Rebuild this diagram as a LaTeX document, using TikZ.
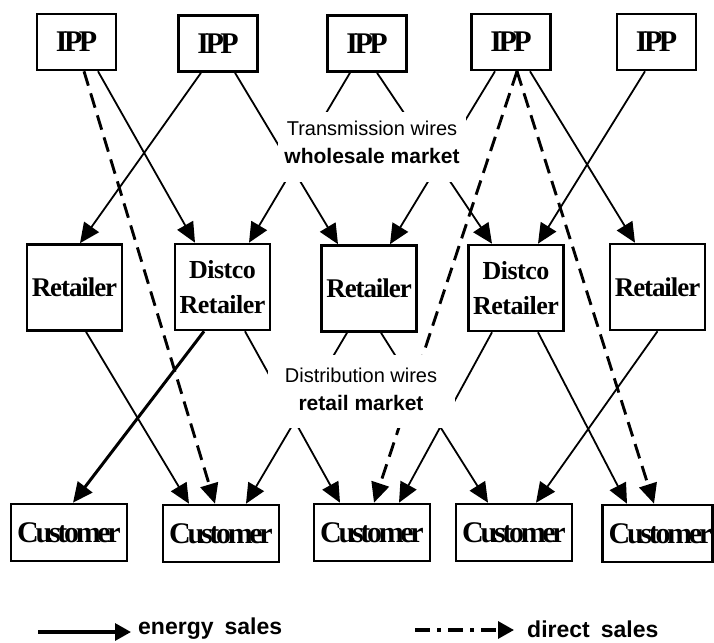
\documentclass[tikz,border=0pt]{standalone}
\usepackage{fontspec}
\setmainfont{Liberation Serif}
\newfontfamily\labelsans{Liberation Sans}
\usetikzlibrary{arrows.meta}
% tightly set box captions
\newcommand\tight[1]{\addfontfeature{LetterSpace=#1}}

\begin{document}
\begin{tikzpicture}[x=1pt,y=-1pt,
  box/.style={draw, line width=2.6pt, inner sep=0pt, align=center},
  ippbox/.style={box, minimum width=79pt, minimum height=56pt, font=\fontsize{30}{34}\selectfont\bfseries\tight{-12}},
  retbox/.style={box, minimum width=95pt, minimum height=86pt, font=\fontsize{27}{35}\selectfont\bfseries\tight{-4}},
  dretbox/.style={box, minimum width=95pt, minimum height=86pt, font=\fontsize{26}{35}\selectfont\bfseries\tight{-2}},
  custbox/.style={box, minimum width=116pt, minimum height=57pt, font=\fontsize{30}{34}\selectfont\bfseries\tight{-11}},
  sale/.style={line width=1.8pt, -{Triangle[length=20pt,width=18pt]}},
  bigsale/.style={sale, line width=3pt},
  direct/.style={sale, line width=2.9pt, dash pattern=on 15pt off 8pt},
  gap/.style={fill=white, inner sep=0pt},
  plain/.style={font=\labelsans\fontsize{20}{24}\selectfont, anchor=base, inner sep=0pt},
  strong/.style={font=\labelsans\bfseries\fontsize{21}{24}\selectfont, anchor=base, inner sep=0pt},
  legend/.style={font=\labelsans\bfseries\fontsize{23}{24}\selectfont, anchor=base west, inner sep=0pt},
]
\useasboundingbox (0,0) rectangle (714,642);

% generators
\node[ippbox] (ipp1) at (76.5,42)  {IPP};
\node[ippbox] (ipp2) at (218,43.5) {IPP};
\node[ippbox] (ipp3) at (367,43.5) {IPP};
\node[ippbox] (ipp4) at (511,42)   {IPP};
\node[ippbox] (ipp5) at (656.5,42) {IPP};

% retailers
\node[retbox]  (ret1) at (74.5,287.5) {Retailer};
\node[dretbox] (dr1)  at (222.5,287)  {Distco\\Retailer};
\node[retbox]  (ret2) at (369,288.5)  {Retailer};
\node[dretbox] (dr2)  at (516,288)    {Distco\\Retailer};
\node[retbox]  (ret3) at (657.5,287)  {Retailer};

% customers
\node[custbox] (cu1) at (69,532.5)  {Customer};
\node[custbox] (cu2) at (221,533.5) {Customer};
\node[custbox] (cu3) at (372,532.5) {Customer};
\node[custbox] (cu4) at (514,532.5) {Customer};
\node[custbox, minimum width=109pt] (cu5) at (657.5,533.5) {\hspace*{6pt}Customer};

% wholesale energy sales
\draw[sale] ([xshift=21.5pt]ipp1.south) -- ([xshift=-27.5pt]dr1.north);
\draw[sale] ([xshift=-17pt]ipp2.south) -- ([xshift=5.5pt]ret1.north);
\draw[sale] ([xshift=17pt]ipp2.south)  -- ([xshift=-31pt]ret2.north);
\draw[sale] ([xshift=-17pt]ipp3.south) -- ([xshift=26.5pt]dr1.north);
\draw[sale] ([xshift=10pt]ipp3.south)  -- ([xshift=-24pt]dr2.north);
\draw[sale] ([xshift=-16pt]ipp4.south) -- ([xshift=21pt]ret2.north);
\draw[sale] ([xshift=19pt]ipp4.south)  -- ([xshift=-22.5pt]ret3.north);
\draw[sale] ([xshift=-11.5pt]ipp5.south) -- ([xshift=22pt]dr2.north);

% retail energy sales
\draw[sale] ([xshift=11.5pt]ret1.south) -- ([xshift=-32pt]cu2.north);
\draw[bigsale] ([xshift=-18.5pt]dr1.south) -- ([xshift=4pt]cu1.north);
\draw[sale] ([xshift=22.5pt]dr1.south) -- ([xshift=-32pt]cu3.north);
\draw[sale] ([xshift=-22pt]ret2.south) -- ([xshift=25pt]cu2.north);
\draw[sale] ([xshift=12pt]ret2.south)  -- ([xshift=-26pt]cu4.north);
\draw[sale] ([xshift=-24pt]dr2.south)  -- ([xshift=27pt]cu3.north);
\draw[sale] ([xshift=22pt]dr2.south)   -- ([xshift=-30.5pt]cu5.north);
\draw[sale] (ret3.south) -- ([xshift=22pt]cu4.north);

% direct sales
\draw[direct] ([xshift=7.5pt]ipp1.south) -- ([xshift=-6pt]cu2.north);
\draw[direct] ([xshift=6pt]ipp4.south) -- ([xshift=2pt]cu3.north);
\draw[direct] ([xshift=6pt]ipp4.south) -- ([xshift=-3.5pt]cu5.north);

% market labels over the wires
\node[gap, minimum width=188pt, minimum height=70pt] (transgap) at (372,147) {};
\node[plain]  (transwires) at (372,135) {Transmission wires};
\node[strong] (wholesale)  at (372,163) {wholesale market};

\node[gap, minimum width=187pt, minimum height=73pt] (distgap) at (361.5,391.5) {};
\node[plain]  (distwires) at (361,382) {Distribution wires};
\node[strong] (retail)    at (361,410) {retail market};

% legend
\coordinate (en1) at (38,632);
\coordinate (en2) at (131,632);
\draw[line width=3.2pt, -{Triangle[length=16pt,width=17pt]}] (en1) -- (en2);
\node[legend] (entext) at (138,634) {energy\hspace{11pt}sales};

\coordinate (di1) at (415,630);
\coordinate (di2) at (514,630);
\draw[line width=3.2pt, dash pattern=on 15pt off 7pt on 4pt off 7pt, -{Triangle[length=16pt,width=17pt]}] (di1) -- (di2);
\node[legend] (ditext) at (527,637) {direct\hspace{11pt}sales};
\end{tikzpicture}
\end{document}
